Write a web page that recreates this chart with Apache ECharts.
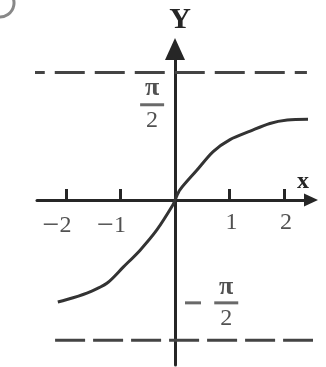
<!DOCTYPE html>
<html><head><meta charset="utf-8">
<script src="https://cdn.jsdelivr.net/npm/echarts@6/dist/echarts.min.js"></script>
<style>html,body{margin:0;padding:0;background:#fff}#c{width:326px;height:367px}</style>
</head><body><div id="c"></div>
<script>
// y = arctan x
const curveX = [-2.15, -1.87, -1.56, -1.25, -0.95, -0.64, -0.33, -0.04, 0, 0.09, 0.40, 0.70, 1.01, 1.38, 1.74, 2.06, 2.44];
const curveY = [-1.20, -1.15, -1.08, -0.98, -0.79, -0.59, -0.35, -0.06, 0, 0.12, 0.35, 0.57, 0.71, 0.81, 0.90, 0.94, 0.95];
// asymptotes y = π/2 and y = −π/2 (as drawn in the scan)
const upperAsymY = 1.50;
const lowerAsymY = -1.65;
const upperAsymX = [-2.94, 2.42];
const lowerAsymX = [-2.20, 2.62];
// tick labels
const xTicks = [-2, -1, 1, 2];
const xTickLabels = ['−2', '−1', '1', '2'];
// annotation anchors
const upperFracAt = [-0.42, 1.12];
const lowerFracAt = [0.94, -1.21];
const lowerMinusAt = [0.33, -1.21];

const ink = '#262626';
const serif = 'Liberation Serif, DejaVu Serif, serif';
const fracRich = {
  p: {fontSize: 26, fontFamily: serif, color: ink, lineHeight: 24, fontWeight: 'bold'},
  b: {width: 24, height: 3, lineHeight: 8, backgroundColor: '#444'},
  d: {fontSize: 24, fontFamily: serif, color: ink, lineHeight: 24}
};

const chart = echarts.init(document.getElementById('c'), null, {renderer: 'canvas'});
chart.setOption({
  animation: false,
  backgroundColor: '#fff',
  grid: {left: 37, right: 15, top: 49, bottom: 2, containLabel: false, outerBoundsMode: 'none'},
  xAxis: {
    type: 'value', min: -2.532, max: 2.495,
    splitLine: {show: false},
    axisLine: {onZero: true, symbol: ['none', 'triangle'], symbolSize: [13, 14],
      lineStyle: {color: ink, width: 3}},
    axisTick: {show: true, inside: true, length: 11, lineStyle: {color: ink, width: 3},
      customValues: xTicks},
    axisLabel: {show: false},
    name: 'x', nameLocation: 'end', nameGap: -14,
    nameTextStyle: {fontSize: 24, fontFamily: serif, color: ink, fontWeight: 'bold',
      align: 'left', verticalAlign: 'bottom', padding: [0, 0, 6, 0]}
  },
  yAxis: {
    type: 'value', min: -1.941, max: 1.776,
    splitLine: {show: false},
    axisLine: {onZero: true, symbol: ['none', 'triangle'], symbolSize: [20, 22],
      lineStyle: {color: ink, width: 3}},
    axisTick: {show: false},
    axisLabel: {show: false},
    name: 'Y', nameLocation: 'end', nameGap: 14,
    nameTextStyle: {fontSize: 30, fontFamily: serif, color: ink, fontWeight: 'bold', padding: [0, 0, 0, 10]}
  },
  graphic: [{
    type: 'arc', shape: {cx: 0, cy: 3, r: 14, startAngle: -0.6, endAngle: 1.7},
    style: {stroke: '#888', lineWidth: 3, fill: null}, silent: true
  }],
  series: [
    {
      type: 'line', clip: false, showSymbol: false, silent: true,
      data: upperAsymX.map(x => [x, upperAsymY]),
      lineStyle: {color: '#444', width: 3, type: [30, 10]}
    },
    {
      type: 'line', clip: false, showSymbol: false, silent: true,
      data: lowerAsymX.map(x => [x, lowerAsymY]),
      lineStyle: {color: '#444', width: 3, type: [30, 8]}
    },
    {
      type: 'line', smooth: 0.3, showSymbol: false, silent: true,
      data: curveX.map((x, i) => [x, curveY[i]]),
      lineStyle: {color: '#333', width: 3}
    },
    {
      type: 'scatter', symbolSize: 0, silent: true,
      data: xTicks.map((v, i) => ({value: [v, 0], name: xTickLabels[i]})),
      label: {
        show: true, position: 'bottom', distance: 11,
        formatter: function (p) {
          const t = p.name;
          if (p.value[0] < 0) return '{m|' + t.charAt(0) + '}{n|' + t.slice(1) + '}{pad|}';
          return '{pad3|}{n|' + t + '}';
        },
        rich: {
          m: {fontSize: 30, fontFamily: serif, color: ink},
          n: {fontSize: 24, fontFamily: serif, color: ink},
          pad: {width: 18},
          pad3: {width: 4}
        }
      }
    },
    {
      type: 'scatter', symbolSize: 0, silent: true,
      data: [upperFracAt, lowerFracAt],
      label: {show: true, position: 'inside', formatter: '{p|π}\n{b| }\n{d|2}', rich: fracRich}
    },
    {
      type: 'scatter', symbolSize: 0, silent: true,
      data: [lowerMinusAt],
      label: {show: true, position: 'inside', formatter: '{b| }', rich: {b: {width: 16, height: 3, lineHeight: 8, backgroundColor: '#444'}}}
    }
  ]
});
</script>
</body></html>
